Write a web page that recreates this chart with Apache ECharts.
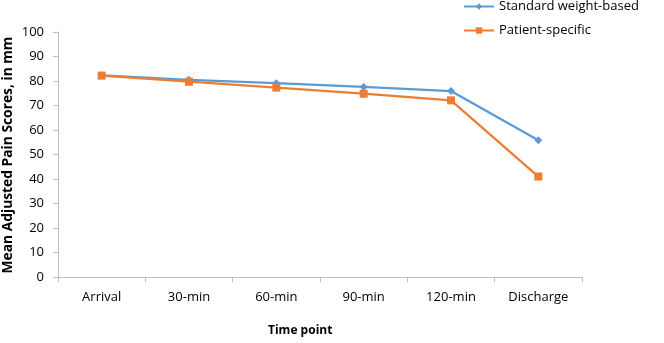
<!DOCTYPE html>
<html><head><meta charset="utf-8">
<script src="https://cdn.jsdelivr.net/npm/echarts@6/dist/echarts.min.js"></script>
<style>html,body{margin:0;padding:0;background:#fff}#c{width:664px;height:343px}</style>
</head><body><div id="c"></div>
<script>
var categories = ['Arrival', '30-min', '60-min', '90-min', '120-min', 'Discharge'];
var standardWeightBased = [82.3, 80.5, 79.1, 77.6, 75.9, 55.8];
var patientSpecific = [82.2, 79.7, 77.3, 74.8, 72.1, 41.0];
var yTicks = {min: 0, max: 100, interval: 10};

var font = 'Open Sans, Liberation Sans, sans-serif';
var chart = echarts.init(document.getElementById('c'));
chart.setOption({
  animation: false,
  grid: {left: 58, right: 82, top: 32, bottom: 66, outerBoundsMode: 'none', containLabel: false},
  legend: {
    orient: 'vertical', left: 463, top: 0, padding: 0, itemGap: 11,
    itemWidth: 30, itemHeight: 8,
    textStyle: {fontFamily: font, fontSize: 13, color: '#000'},
    data: ['Standard weight-based', 'Patient-specific']
  },
  xAxis: {
    type: 'category', data: categories, boundaryGap: true,
    axisLine: {lineStyle: {color: '#bfbfbf'}},
    axisTick: {show: true, length: 5, lineStyle: {color: '#bfbfbf'}},
    axisLabel: {fontFamily: font, fontSize: 13, color: '#000', margin: 14}
  },
  yAxis: {
    type: 'value', min: yTicks.min, max: yTicks.max, interval: yTicks.interval,
    axisLine: {show: true, lineStyle: {color: '#bfbfbf'}},
    axisTick: {show: true, length: 5, lineStyle: {color: '#bfbfbf'}},
    splitLine: {show: false},
    axisLabel: {fontFamily: font, fontSize: 13, color: '#000', margin: 14}
  },
  graphic: [{
    type: 'text', left: 268, top: 325,
    style: {text: 'Time point', font: 'bold 12px ' + font, fill: '#000'}
  }, {
    type: 'text', x: 8, y: 155, rotation: Math.PI / 2,
    style: {text: 'Mean Adjusted Pain Scores, in mm', font: 'bold 13.8px ' + font,
            fill: '#000', align: 'center', verticalAlign: 'middle'}
  }],
  series: [{
    name: 'Standard weight-based', type: 'line', data: standardWeightBased,
    symbol: 'diamond', symbolSize: 8,
    lineStyle: {color: '#5b9bd5', width: 2.25}, itemStyle: {color: '#5b9bd5'}
  }, {
    name: 'Patient-specific', type: 'line', data: patientSpecific,
    symbol: 'rect', symbolSize: 8,
    lineStyle: {color: '#ed7d31', width: 2.25}, itemStyle: {color: '#ed7d31'}
  }]
});
</script></body></html>
